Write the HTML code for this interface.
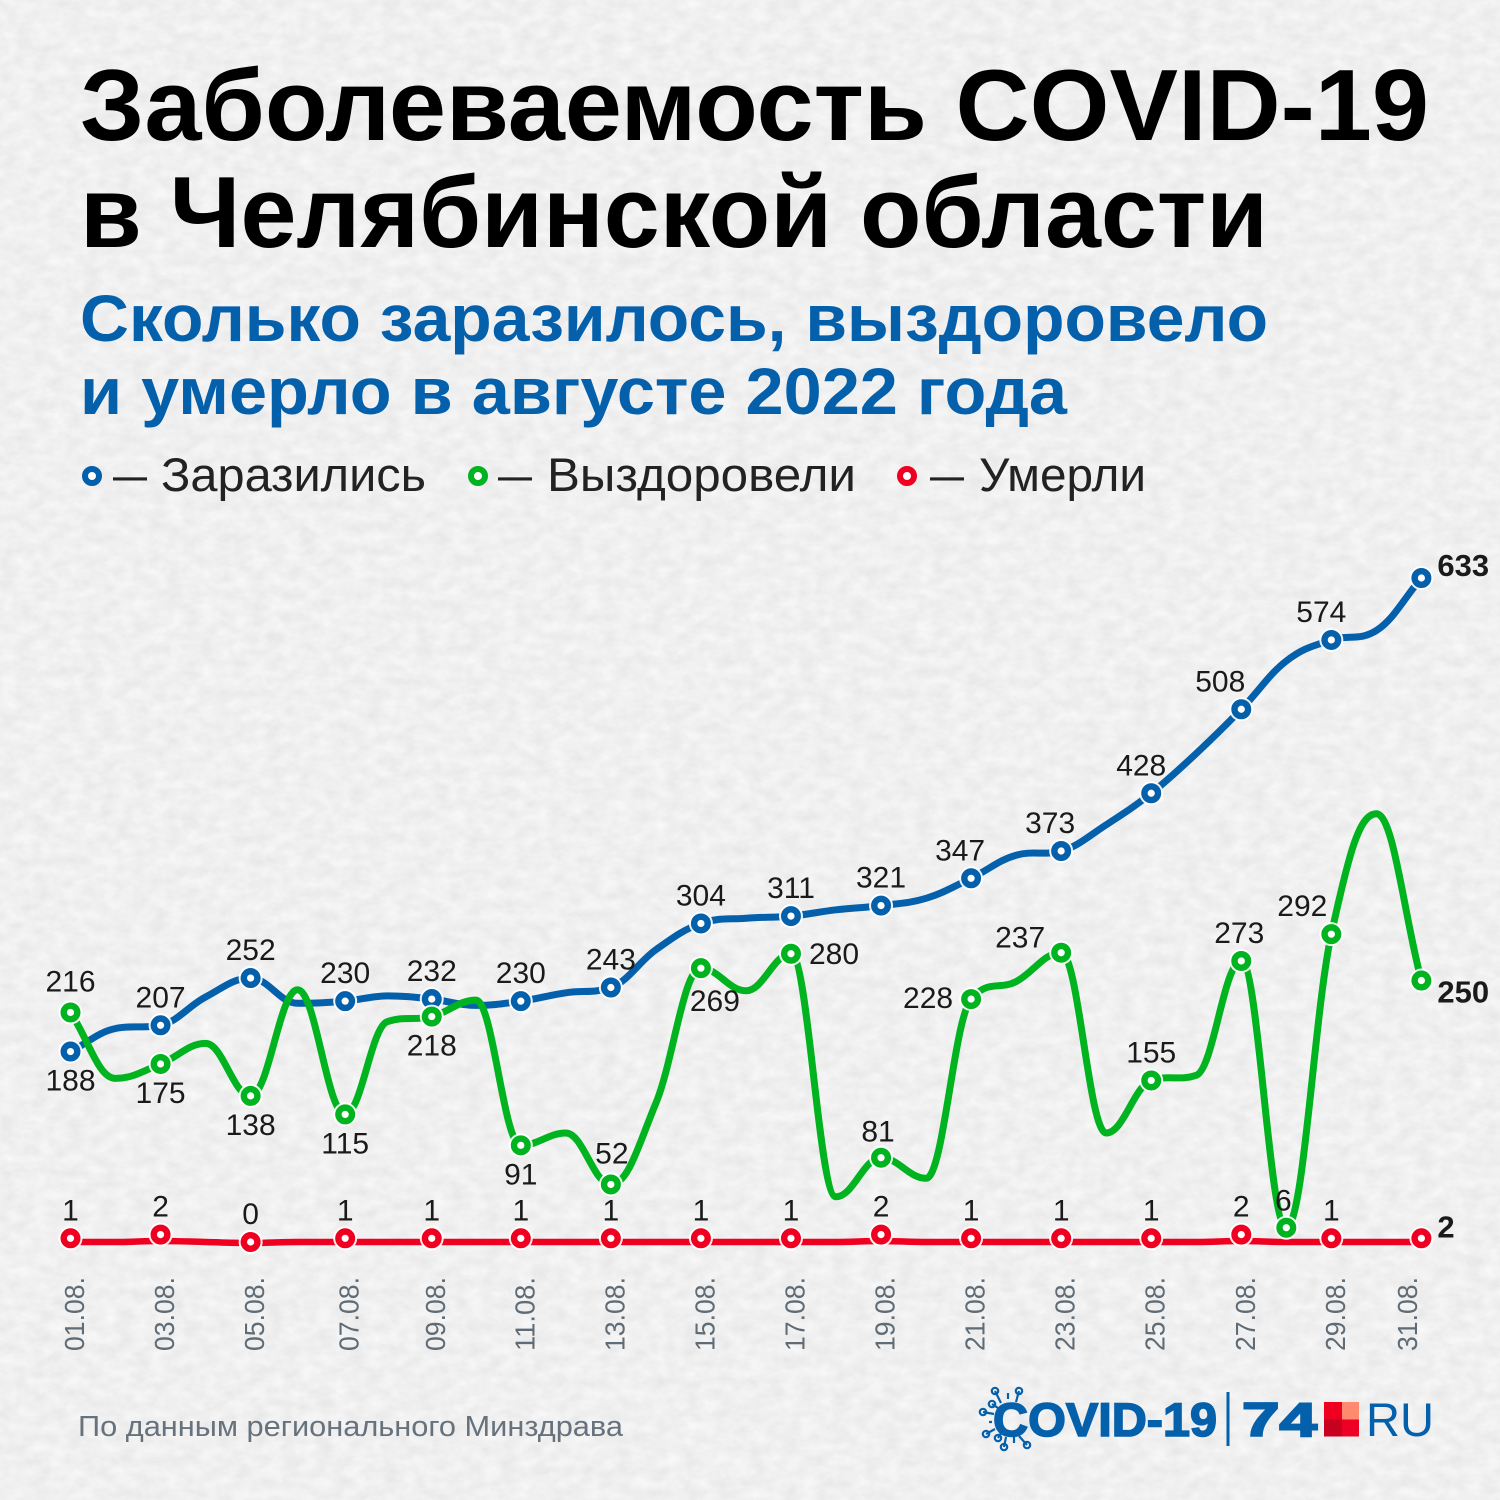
<!DOCTYPE html>
<html lang="ru">
<head>
<meta charset="utf-8">
<title>Заболеваемость COVID-19 в Челябинской области</title>
<style>
html,body{margin:0;padding:0;background:#f0f0f0}
svg{display:block}
text{font-family:"Liberation Sans","DejaVu Sans",sans-serif}
</style>
</head>
<body>
<svg id="chart" xmlns="http://www.w3.org/2000/svg" width="1500" height="1500" viewBox="0 0 1500 1500">
  <defs>
    <filter id="paper" x="0" y="0" width="100%" height="100%" color-interpolation-filters="sRGB">
      <feTurbulence type="fractalNoise" baseFrequency="0.06 0.09" numOctaves="5" seed="7"/>
      <feColorMatrix type="matrix" values="0 0 0 0.08 0.9  0 0 0 0.08 0.9  0 0 0 0.08 0.9  0 0 0 0 1"/>
    </filter>
  </defs>
  <rect width="1500" height="1500" fill="#f0f0f0"/>
  <rect width="1500" height="1500" filter="url(#paper)"/>

  <g font-weight="700" font-size="101" fill="#000">
    <text x="80" y="140" textLength="1349" lengthAdjust="spacingAndGlyphs">Заболеваемость COVID-19</text>
    <text x="80" y="247" textLength="1188" lengthAdjust="spacingAndGlyphs">в Челябинской области</text>
  </g>
  <g font-weight="700" font-size="66" fill="#0560ab">
    <text x="80" y="341" textLength="1188" lengthAdjust="spacingAndGlyphs">Сколько заразилось, выздоровело</text>
    <text x="80" y="414" textLength="987" lengthAdjust="spacingAndGlyphs">и умерло в августе 2022 года</text>
  </g>

  <g font-size="47" fill="#222">
    <g>
      <circle cx="92" cy="476" r="7" fill="#fff" stroke="#0560ab" stroke-width="6"/>
      <text x="113" y="491" textLength="34" lengthAdjust="spacingAndGlyphs">—</text>
      <text x="161" y="491" textLength="265" lengthAdjust="spacingAndGlyphs">Заразились</text>
    </g>
    <g>
      <circle cx="478" cy="476" r="7" fill="#fff" stroke="#00b31f" stroke-width="6"/>
      <text x="498" y="491" textLength="34" lengthAdjust="spacingAndGlyphs">—</text>
      <text x="547" y="491" textLength="309" lengthAdjust="spacingAndGlyphs">Выздоровели</text>
    </g>
    <g>
      <circle cx="907" cy="476" r="7" fill="#fff" stroke="#f00020" stroke-width="6"/>
      <text x="930" y="491" textLength="34" lengthAdjust="spacingAndGlyphs">—</text>
      <text x="979" y="491" textLength="167" lengthAdjust="spacingAndGlyphs">Умерли</text>
    </g>
  </g>

  <g id="plot"></g>

  <text x="78" y="1436" font-size="29" fill="#67727c" textLength="545" lengthAdjust="spacingAndGlyphs">По данным регионального Минздрава</text>

  <g>
    <g stroke="#0560ab" stroke-width="2.2" fill="none">
      <path d="M995 1391L1001 1403M1019 1391L1016 1402M992 1404L998 1408M983 1412L994 1414M986 1434L995 1429M998 1438L1001 1433M1004 1447L1006 1437M1027 1445L1019 1436M1008 1393V1399M1014 1443V1437M992 1422H989"/>
      <circle cx="995" cy="1391" r="3.2"/><circle cx="1019" cy="1391" r="3.2"/><circle cx="992" cy="1404" r="3.2"/>
      <circle cx="983" cy="1412" r="3.2"/><circle cx="986" cy="1434" r="3.2"/><circle cx="998" cy="1438" r="3.2"/>
      <circle cx="1004" cy="1447" r="3.2"/><circle cx="1027" cy="1445" r="3.2"/>
    </g>
    <text x="993" y="1436" font-size="47" font-weight="700" fill="#0560ab" stroke="#0560ab" stroke-width="1.6" textLength="224" lengthAdjust="spacingAndGlyphs">COVID-19</text>
    <rect x="1226.5" y="1392" width="3" height="54" fill="#0560ab"/>
    <text x="1242" y="1436" font-size="47" font-weight="700" fill="#0560ab" stroke="#0560ab" stroke-width="2" textLength="75" lengthAdjust="spacingAndGlyphs">74</text>
    <g>
      <rect x="1324" y="1402" width="18" height="17.5" fill="#f00020"/>
      <rect x="1342" y="1402" width="17" height="17.5" fill="#ff8a70"/>
      <rect x="1324" y="1419.5" width="18" height="17" fill="#c80020"/>
      <rect x="1342" y="1419.5" width="17" height="17" fill="#ee0025"/>
    </g>
    <text x="1366" y="1436" font-size="47" fill="#0560ab" textLength="68" lengthAdjust="spacingAndGlyphs">RU</text>
  </g>
</svg>

<script>
// Daily values (index 0 = 1 August)
const infectedValues = [182,204,207,234,252,228,230,235,232,226,230,238,243,279,304,309,311,317,321,328,347,369,373,398,428,466,508,554,574,583,633];
const recoveredValues = [218,154,168,188,137,240,119,209,214,230,89,101,51,130,261,239,275,39,77,57,231,248,276,101,152,157,268,9,294,411,249];
const deathsValues = [1,1,2,1,0,1,1,1,1,1,1,1,1,1,1,1,1,1,2,1,1,1,1,1,1,1,2,1,1,1,1];

// Printed figures (null = no marker on that day)
const infectedLabels = ['188',null,'207',null,'252',null,'230',null,'232',null,'230',null,'243',null,'304',null,'311',null,'321',null,'347',null,'373',null,'428',null,'508',null,'574',null,'633'];
const recoveredLabels = ['216',null,'175',null,'138',null,'115',null,'218',null,'91',null,'52',null,'269',null,'280',null,'81',null,'228',null,'237',null,'155',null,'273','6','292',null,'250'];
const deathsLabels = ['1',null,'2',null,'0',null,'1',null,'1',null,'1',null,'1',null,'1',null,'1',null,'2',null,'1',null,'1',null,'1',null,'2',null,'1',null,'2'];

// Category axis
const tickDays = [1,3,5,7,9,11,13,15,17,19,21,23,25,27,29,31];
const tickLabels = ['01.08.','03.08.','05.08.','07.08.','09.08.','11.08.','13.08.','15.08.','17.08.','19.08.','21.08.','23.08.','25.08.','27.08.','29.08.','31.08.'];

// Axis functions (the reference axis is hand-spaced slightly around day 7)
const axisNudge = {6: 2, 7: 4.5, 8: 1.5, 9: 1};
function xDay(day){ return 70.5 + 45.03 * (day - 1) + (axisNudge[day] || 0); }
function yInfected(v){ return 1242.65 - 1.05 * v; }
function yRecovered(v){ return 1237 - 1.03 * v; }
function yDeathsLine(v){ return 1243 - 1.0 * v; }
function yDeathsMark(v){ return 1242 - 3.7 * v; }

const NS = 'http://www.w3.org/2000/svg';
const plot = document.getElementById('plot');

function make(tag, attrs, parent){
  const el = document.createElementNS(NS, tag);
  for (const k in attrs) el.setAttribute(k, attrs[k]);
  parent.appendChild(el);
  return el;
}

// Monotone cubic: peaks and troughs sit exactly on the data points
function smoothPath(values, yFn){
  const pts = values.map(function(v, i){ return [xDay(i + 1), yFn(v)]; });
  const n = pts.length;
  const s = [];
  for (let i = 0; i < n - 1; i++) s.push((pts[i + 1][1] - pts[i][1]) / (pts[i + 1][0] - pts[i][0]));
  const m = [s[0]];
  for (let i = 1; i < n - 1; i++) {
    if (s[i - 1] * s[i] <= 0) { m.push(0); continue; }
    const avg = (s[i - 1] + s[i]) / 2;
    const lim = 3 * Math.min(Math.abs(s[i - 1]), Math.abs(s[i]));
    m.push(Math.sign(avg) * Math.min(Math.abs(avg), lim));
  }
  m.push(s[n - 2]);
  let d = 'M' + pts[0][0].toFixed(1) + ' ' + pts[0][1].toFixed(1);
  for (let i = 0; i < n - 1; i++) {
    const h = (pts[i + 1][0] - pts[i][0]) / 2.6;
    d += 'C' + (pts[i][0] + h).toFixed(1) + ' ' + (pts[i][1] + m[i] * h).toFixed(1) + ' ' +
         (pts[i + 1][0] - h).toFixed(1) + ' ' + (pts[i + 1][1] - m[i + 1] * h).toFixed(1) + ' ' +
         pts[i + 1][0].toFixed(1) + ' ' + pts[i + 1][1].toFixed(1);
  }
  return d;
}

// Label placement rules: [dx, dy, anchor]; default is above the marker
const ABOVE = [0, -18, 'middle'];
const BELOW = [0, 39, 'middle'];
const infectedPlacement = {
  1: BELOW, 21: [-11, -18, 'middle'], 23: [-11, -18, 'middle'], 25: [-10, -18, 'middle'],
  27: [-21, -18, 'middle'], 29: [-10, -18, 'middle'], 31: [16, -2, 'start']
};
const recoveredPlacement = {
  1: [0, -21, 'middle'], 3: BELOW, 5: BELOW, 7: BELOW, 9: BELOW, 11: BELOW, 13: [1, -21, 'middle'],
  15: [14, 43, 'middle'], 17: [18, 10, 'start'], 19: [-3, -16, 'middle'], 21: [-18, 9, 'end'],
  23: [-16, -5, 'end'], 27: [-2, -18, 'middle'], 28: [-3, -17, 'middle'], 29: [-4, -18, 'end'],
  31: [16, 22, 'start']
};
const deathsPlacement = {31: [16, -1, 'start']};

function drawSeries(groupEl, values, labels, yLine, yMark, color, width, placement, labelLayer){
  const line = make('path', {d: smoothPath(values, yLine), fill: 'none', stroke: color, 'stroke-width': width, 'stroke-linecap': 'round'}, groupEl);
  
  
  labels.forEach(function(label, i){
    if (label === null) return;
    const day = i + 1;
    const x = xDay(day), y = yMark(values[i]);
    const halo = make('circle', {cx: x, cy: y, r: 12, fill: '#fff', 'fill-opacity': 0.92}, groupEl);
    
    
    const ring = make('circle', {cx: x, cy: y, r: 6.8, fill: '#fff', stroke: color, 'stroke-width': 6.4}, groupEl);
    
    
    const place = placement[day] || ABOVE;
    const bold = day === 31;
    const text = make('text', {x: x + place[0], y: y + place[1], 'text-anchor': place[2], 'font-size': bold ? 31 : 30, 'font-weight': bold ? 700 : 400, fill: '#1a1a1a'}, labelLayer);
    text.textContent = label;
    
    
  });
}

const deathsGroup = make('g', {}, plot);


const infectedGroup = make('g', {}, plot);


const recoveredGroup = make('g', {}, plot);


const labelLayer = make('g', {}, plot);



drawSeries(deathsGroup, deathsValues, deathsLabels, yDeathsLine, yDeathsMark, '#f00020', 6.5, deathsPlacement, labelLayer);
drawSeries(infectedGroup, infectedValues, infectedLabels, yInfected, yInfected, '#0560ab', 7, infectedPlacement, labelLayer);
drawSeries(recoveredGroup, recoveredValues, recoveredLabels, yRecovered, yRecovered, '#00b31f', 7, recoveredPlacement, labelLayer);

// Date axis
const axisGroup = make('g', {}, plot);


tickDays.forEach(function(day, i){
  const bx = Math.min(xDay(day) + 13.5, 1417);
  const t = make('text', {transform: 'translate(' + bx + ' 1351) rotate(-90)', 'font-size': 28, fill: '#5f6b75', textLength: 74, lengthAdjust: 'spacingAndGlyphs'}, axisGroup);
  t.textContent = tickLabels[i];
  
  
});
</script>
</body>
</html>
